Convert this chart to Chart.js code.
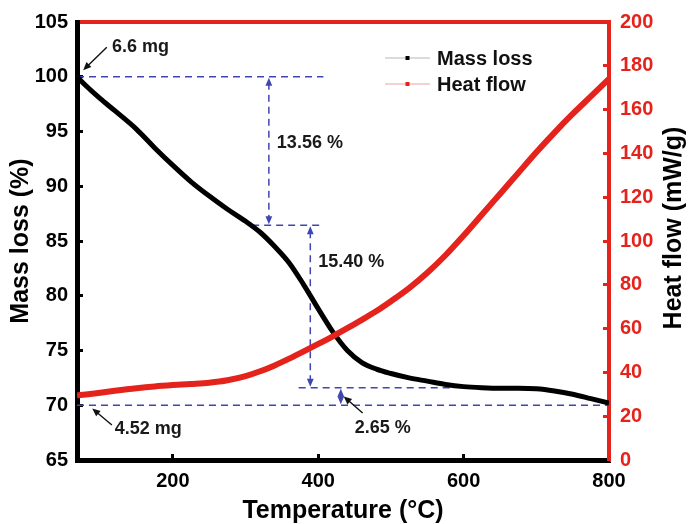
<!DOCTYPE html>
<html>
<head>
<meta charset="utf-8">
<title>TGA</title>
<script src="https://cdn.jsdelivr.net/npm/chart.js@4.4.1/dist/chart.umd.min.js"></script>
<style>
  html, body { margin: 0; padding: 0; background: #fff; }
</style>
</head>
<body>
<canvas id="tgaChart" width="688" height="524"></canvas>
<script>
// temperature (°C)
const temperature = [68, 80, 100, 120, 150, 175, 200, 225, 250, 275, 300, 320, 340, 360, 380, 400, 420,
  440, 460, 480, 500, 525, 550, 575, 600, 625, 650, 675, 700, 725, 750, 775, 800];
// residual mass (%)
const massLoss = [100, 99.2, 98.0, 96.9, 95.2, 93.5, 91.9, 90.4, 89.1, 87.9, 86.8, 85.8, 84.5, 83.0, 81.0, 78.8, 76.7,
  75.0, 73.9, 73.3, 72.9, 72.5, 72.2, 71.9, 71.7, 71.6, 71.55, 71.55, 71.5, 71.3, 71.0, 70.6, 70.2];
// heat flow (mW/g)
const heatFlow = [29.5, 29.9, 30.7, 31.6, 32.8, 33.6, 34.2, 34.7, 35.3, 36.4, 38.3, 40.5, 43.2, 46.3, 49.6, 53.0, 56.5,
  60.2, 64.0, 68.0, 72.5, 78.5, 85.5, 93.5, 102.5, 112.0, 121.5, 131.0, 140.5, 149.5, 158.0, 166.0, 174.0];

const xTicks = [200, 400, 600, 800];
const massTicks = [65, 70, 75, 80, 85, 90, 95, 100, 105];
const heatTicks = [0, 20, 40, 60, 80, 100, 120, 140, 160, 180, 200];

// step levels (%) marked with dashed guides
const massLevels = [100, 86.44, 71.6, 70];
const stepLabels = ['13.56 %', '15.40 %', '2.65 %'];
const massLabels = ['6.6 mg', '4.52 mg'];
const heatTitle = 'Heat flow (mW/g)';

const FONT = "'Liberation Sans', Arial, sans-serif";
const RED = '#e4231c';
const BLUE = '#3f46b4';

// dashed guides: [from T, to T, level]
const guides = [
  [68, 407, massLevels[0]],
  [309, 407, massLevels[1]],
  [373, 581, massLevels[2]],
  [68, 800, massLevels[3]],
];
// double arrows between levels: [T, upper, lower]
const steps = [
  [332, massLevels[0], massLevels[1]],
  [389, massLevels[1], massLevels[2]],
  [431, massLevels[2], massLevels[3]],
];
// pointer arrows: tail -> tip
const pointers = [
  [[109, 102.7], [76.5, 100.6]],
  [[116, 68.2], [89, 69.7]],
  [[461, 69.3], [435, 70.8]],
];
const notes = [
  [massLabels[0], 116, 102.7],
  [stepLabels[0], 343, 93.95],
  [stepLabels[1], 400, 83.08],
  [stepLabels[2], 450, 67.9],
  [massLabels[1], 120, 67.83],
];

function head(ctx, x, y, angle, len, half) {
  ctx.save();
  ctx.translate(x, y);
  ctx.rotate(angle);
  ctx.beginPath();
  ctx.moveTo(0, 0);
  ctx.lineTo(-len, -half);
  ctx.lineTo(-len, half);
  ctx.closePath();
  ctx.fill();
  ctx.restore();
}

// drop the label overhang so the plot box keeps its own size
function noOverhang(s) {
  s.paddingTop = 0;
  s.paddingBottom = 0;
  s.paddingLeft = 0;
  s.paddingRight = 0;
}

const guidePlugin = {
  id: 'guides',
  beforeDatasetsDraw(chart) {
    const { ctx, scales: { x, y } } = chart;
    ctx.save();
    ctx.strokeStyle = BLUE;
    ctx.fillStyle = BLUE;
    ctx.lineWidth = 1.5;
    ctx.setLineDash([7, 5]);
    guides.forEach(([t1, t2, v]) => {
      const py = y.getPixelForValue(v);
      ctx.beginPath();
      ctx.moveTo(x.getPixelForValue(t1), py);
      ctx.lineTo(x.getPixelForValue(t2), py);
      ctx.stroke();
    });
    steps.forEach(([t, v1, v2]) => {
      const px = x.getPixelForValue(t);
      const p1 = y.getPixelForValue(v1);
      const p2 = y.getPixelForValue(v2);
      ctx.beginPath();
      ctx.moveTo(px, p1 + 6);
      ctx.lineTo(px, p2 - 6);
      ctx.stroke();
      head(ctx, px, p1 + 1, -Math.PI / 2, 8, 3.4);
      head(ctx, px, p2 - 1, Math.PI / 2, 8, 3.4);
    });
    ctx.restore();
  },
  afterDatasetsDraw(chart) {
    const { ctx, scales: { x, y } } = chart;
    ctx.save();
    ctx.strokeStyle = '#111';
    ctx.fillStyle = '#111';
    ctx.lineWidth = 1.4;
    pointers.forEach(([from, to]) => {
      const x1 = x.getPixelForValue(from[0]), y1 = y.getPixelForValue(from[1]);
      const x2 = x.getPixelForValue(to[0]), y2 = y.getPixelForValue(to[1]);
      const a = Math.atan2(y2 - y1, x2 - x1);
      ctx.beginPath();
      ctx.moveTo(x1, y1);
      ctx.lineTo(x2 - Math.cos(a) * 5, y2 - Math.sin(a) * 5);
      ctx.stroke();
      head(ctx, x2, y2, a, 8, 3.5);
    });
    ctx.fillStyle = '#1a1a1a';
    ctx.font = `bold 18px ${FONT}`;
    ctx.textAlign = 'left';
    ctx.textBaseline = 'middle';
    notes.forEach(([txt, t, v]) => {
      ctx.fillText(txt, x.getPixelForValue(t), y.getPixelForValue(v));
    });
    ctx.restore();
  },
};

// right axis title, read bottom-to-top like the left one
const rightTitlePlugin = {
  id: 'rightTitle',
  afterDraw(chart) {
    const { ctx, chartArea } = chart;
    const s = chart.scales.y1;
    ctx.save();
    ctx.translate(s.right - 14, (chartArea.top + chartArea.bottom) / 2 - 13);
    ctx.rotate(-Math.PI / 2);
    ctx.fillStyle = '#000';
    ctx.font = `bold 25px ${FONT}`;
    ctx.textAlign = 'center';
    ctx.textBaseline = 'middle';
    ctx.fillText(heatTitle, 0, 0);
    ctx.restore();
  },
};

// line + square marker legend inside the plot
const legendPlugin = {
  id: 'sampleLegend',
  afterDraw(chart) {
    const { ctx, chartArea } = chart;
    const x0 = chartArea.left + 308;
    const y0 = chartArea.top + 36;
    ctx.save();
    chart.data.datasets.forEach((ds, i) => {
      const yy = y0 + i * 26;
      ctx.strokeStyle = ds.sampleColor;
      ctx.lineWidth = 1.2;
      ctx.beginPath();
      ctx.moveTo(x0, yy);
      ctx.lineTo(x0 + 45, yy);
      ctx.stroke();
      ctx.fillStyle = ds.borderColor;
      ctx.fillRect(x0 + 20.5, yy - 2, 4, 4);
      ctx.fillStyle = '#111';
      ctx.font = `bold 20px ${FONT}`;
      ctx.textAlign = 'left';
      ctx.textBaseline = 'middle';
      ctx.fillText(ds.label, x0 + 52, yy + 1);
    });
    ctx.restore();
  },
};

const tickFont = { family: FONT, size: 20, weight: 'bold' };
const titleFont = { family: FONT, size: 25, weight: 'bold', lineHeight: 1.0 };

new Chart(document.getElementById('tgaChart').getContext('2d'), {
  type: 'line',
  data: {
    datasets: [
      {
        label: 'Mass loss',
        data: temperature.map((t, i) => ({ x: t, y: massLoss[i] })),
        borderColor: '#000',
        sampleColor: '#b8b8b8',
        borderWidth: 5,
        pointRadius: 0,
        cubicInterpolationMode: 'monotone',
        yAxisID: 'y',
        order: 1,
      },
      {
        label: 'Heat flow',
        data: temperature.map((t, i) => ({ x: t, y: heatFlow[i] })),
        borderColor: RED,
        sampleColor: '#f0a4a4',
        borderWidth: 6,
        pointRadius: 0,
        cubicInterpolationMode: 'monotone',
        yAxisID: 'y1',
        order: 0,
      },
    ],
  },
  options: {
    responsive: false,
    animation: false,
    layout: { padding: { top: 22 } },
    plugins: {
      legend: { display: false },
      tooltip: { enabled: false },
    },
    scales: {
      x: {
        type: 'linear',
        position: 'bottom',
        min: 68,
        max: 800,
        afterBuildTicks: (s) => { s.ticks = xTicks.map((v) => ({ value: v })); },
        afterFit: (s) => { s.height = 64; noOverhang(s); },
        ticks: { color: '#000', font: tickFont, padding: 15 },
        grid: { drawOnChartArea: false, tickLength: -6, tickWidth: 3, tickColor: '#000' },
        border: { color: '#000', width: 5 },
        title: { display: true, text: 'Temperature (°C)', color: '#000', font: titleFont, padding: 0 },
      },
      xTop: {
        type: 'linear',
        position: 'top',
        min: 68,
        max: 800,
        afterFit: (s) => { s.height = 0; noOverhang(s); },
        ticks: { display: false },
        grid: { drawOnChartArea: false, drawTicks: false },
        border: { color: RED, width: 4 },
      },
      y: {
        position: 'left',
        min: 65,
        max: 105,
        afterBuildTicks: (s) => { s.ticks = massTicks.map((v) => ({ value: v })); },
        afterFit: (s) => { s.width = 77; noOverhang(s); },
        ticks: { color: '#000', font: tickFont, padding: 15 },
        grid: { drawOnChartArea: false, tickLength: -6, tickWidth: 3, tickColor: '#000' },
        border: { color: '#000', width: 5 },
        title: { display: true, text: 'Mass loss (%)', color: '#000', font: titleFont, padding: { top: 9 } },
      },
      y1: {
        position: 'right',
        min: 0,
        max: 200,
        afterBuildTicks: (s) => { s.ticks = heatTicks.map((v) => ({ value: v })); },
        afterFit: (s) => { s.width = 79; noOverhang(s); },
        ticks: { color: RED, font: tickFont, padding: 17 },
        grid: { drawOnChartArea: false, tickLength: -6, tickWidth: 3, tickColor: RED },
        border: { color: RED, width: 4 },
      },
    },
  },
  plugins: [guidePlugin, rightTitlePlugin, legendPlugin],
});
</script>
</body>
</html>
